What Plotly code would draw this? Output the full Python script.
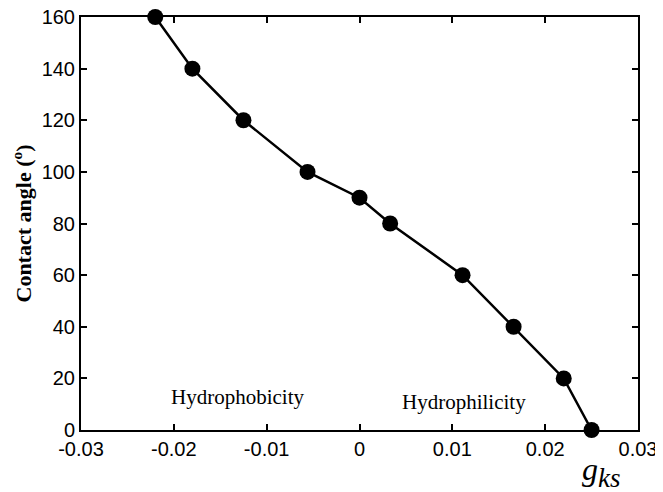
import plotly.graph_objects as go

# Data
g_ks = [-0.022, -0.018, -0.0125, -0.0056, 0.0, 0.0033, 0.0111, 0.0166, 0.022, 0.025]
contact_angle = [160, 140, 120, 100, 90, 80, 60, 40, 20, 0]

x_tickvals = [-0.03, -0.02, -0.01, 0, 0.01, 0.02, 0.03]
x_ticktext = ["-0.03", "-0.02", "-0.01", "0", "0.01", "0.02", "0.03"]
y_tickvals = [0, 20, 40, 60, 80, 100, 120, 140, 160]
y_ticktext = ["0", "20", "40", "60", "80", "100", "120", "140", "160"]

region_labels = ["Hydrophobicity", "Hydrophilicity"]
region_x = [-0.0131, 0.0113]
region_y = [12.8, 10.8]

fig = go.Figure()
fig.add_trace(go.Scatter(
    x=g_ks, y=contact_angle, mode="lines+markers",
    line=dict(color="black", width=2.5),
    marker=dict(color="black", size=16),
    cliponaxis=False, showlegend=False,
))

tick_font = dict(family="Liberation Sans, Arial, sans-serif", size=20, color="black")

fig.update_xaxes(
    range=[-0.03, 0.03], tickvals=x_tickvals, ticktext=x_ticktext,
    ticks="inside", ticklen=6, tickwidth=1.5, tickcolor="black",
    showline=True, linecolor="black", linewidth=2, mirror="ticks",
    showgrid=False, zeroline=False, tickfont=tick_font, automargin=False,
    ticklabeloverflow="allow",
)
fig.update_yaxes(
    range=[0, 160], tickvals=y_tickvals, ticktext=y_ticktext,
    ticks="inside", ticklen=6, tickwidth=1.5, tickcolor="black",
    showline=True, linecolor="black", linewidth=2, mirror="ticks",
    showgrid=False, zeroline=False, tickfont=tick_font, automargin=False,
    ticklabeloverflow="allow",
    title=dict(text="<b>Contact angle (<sup>o</sup>)</b>",
               font=dict(family="Liberation Serif, Times New Roman, serif", size=22, color="black"),
               standoff=12),
)

for t, xv, yv in zip(region_labels, region_x, region_y):
    fig.add_annotation(x=xv, y=yv, text=t, showarrow=False, xref="x", yref="y",
                       font=dict(family="Liberation Serif, Times New Roman, serif", size=21, color="black"))

fig.add_annotation(x=0.935, y=-0.045, xref="paper", yref="paper", xanchor="center", yanchor="top",
                   text="<i>g</i><sub><span style='font-size:27px'><i>ks</i></span></sub>", showarrow=False,
                   font=dict(family="Liberation Serif, Times New Roman, serif", size=32, color="black"))

# page body has an 8px margin, so the figure is offset by 8px
fig.update_layout(
    width=655, height=484,
    margin=dict(l=73, r=25, t=9, b=62),
    plot_bgcolor="white", paper_bgcolor="white",
)

fig.write_html("out.html")
